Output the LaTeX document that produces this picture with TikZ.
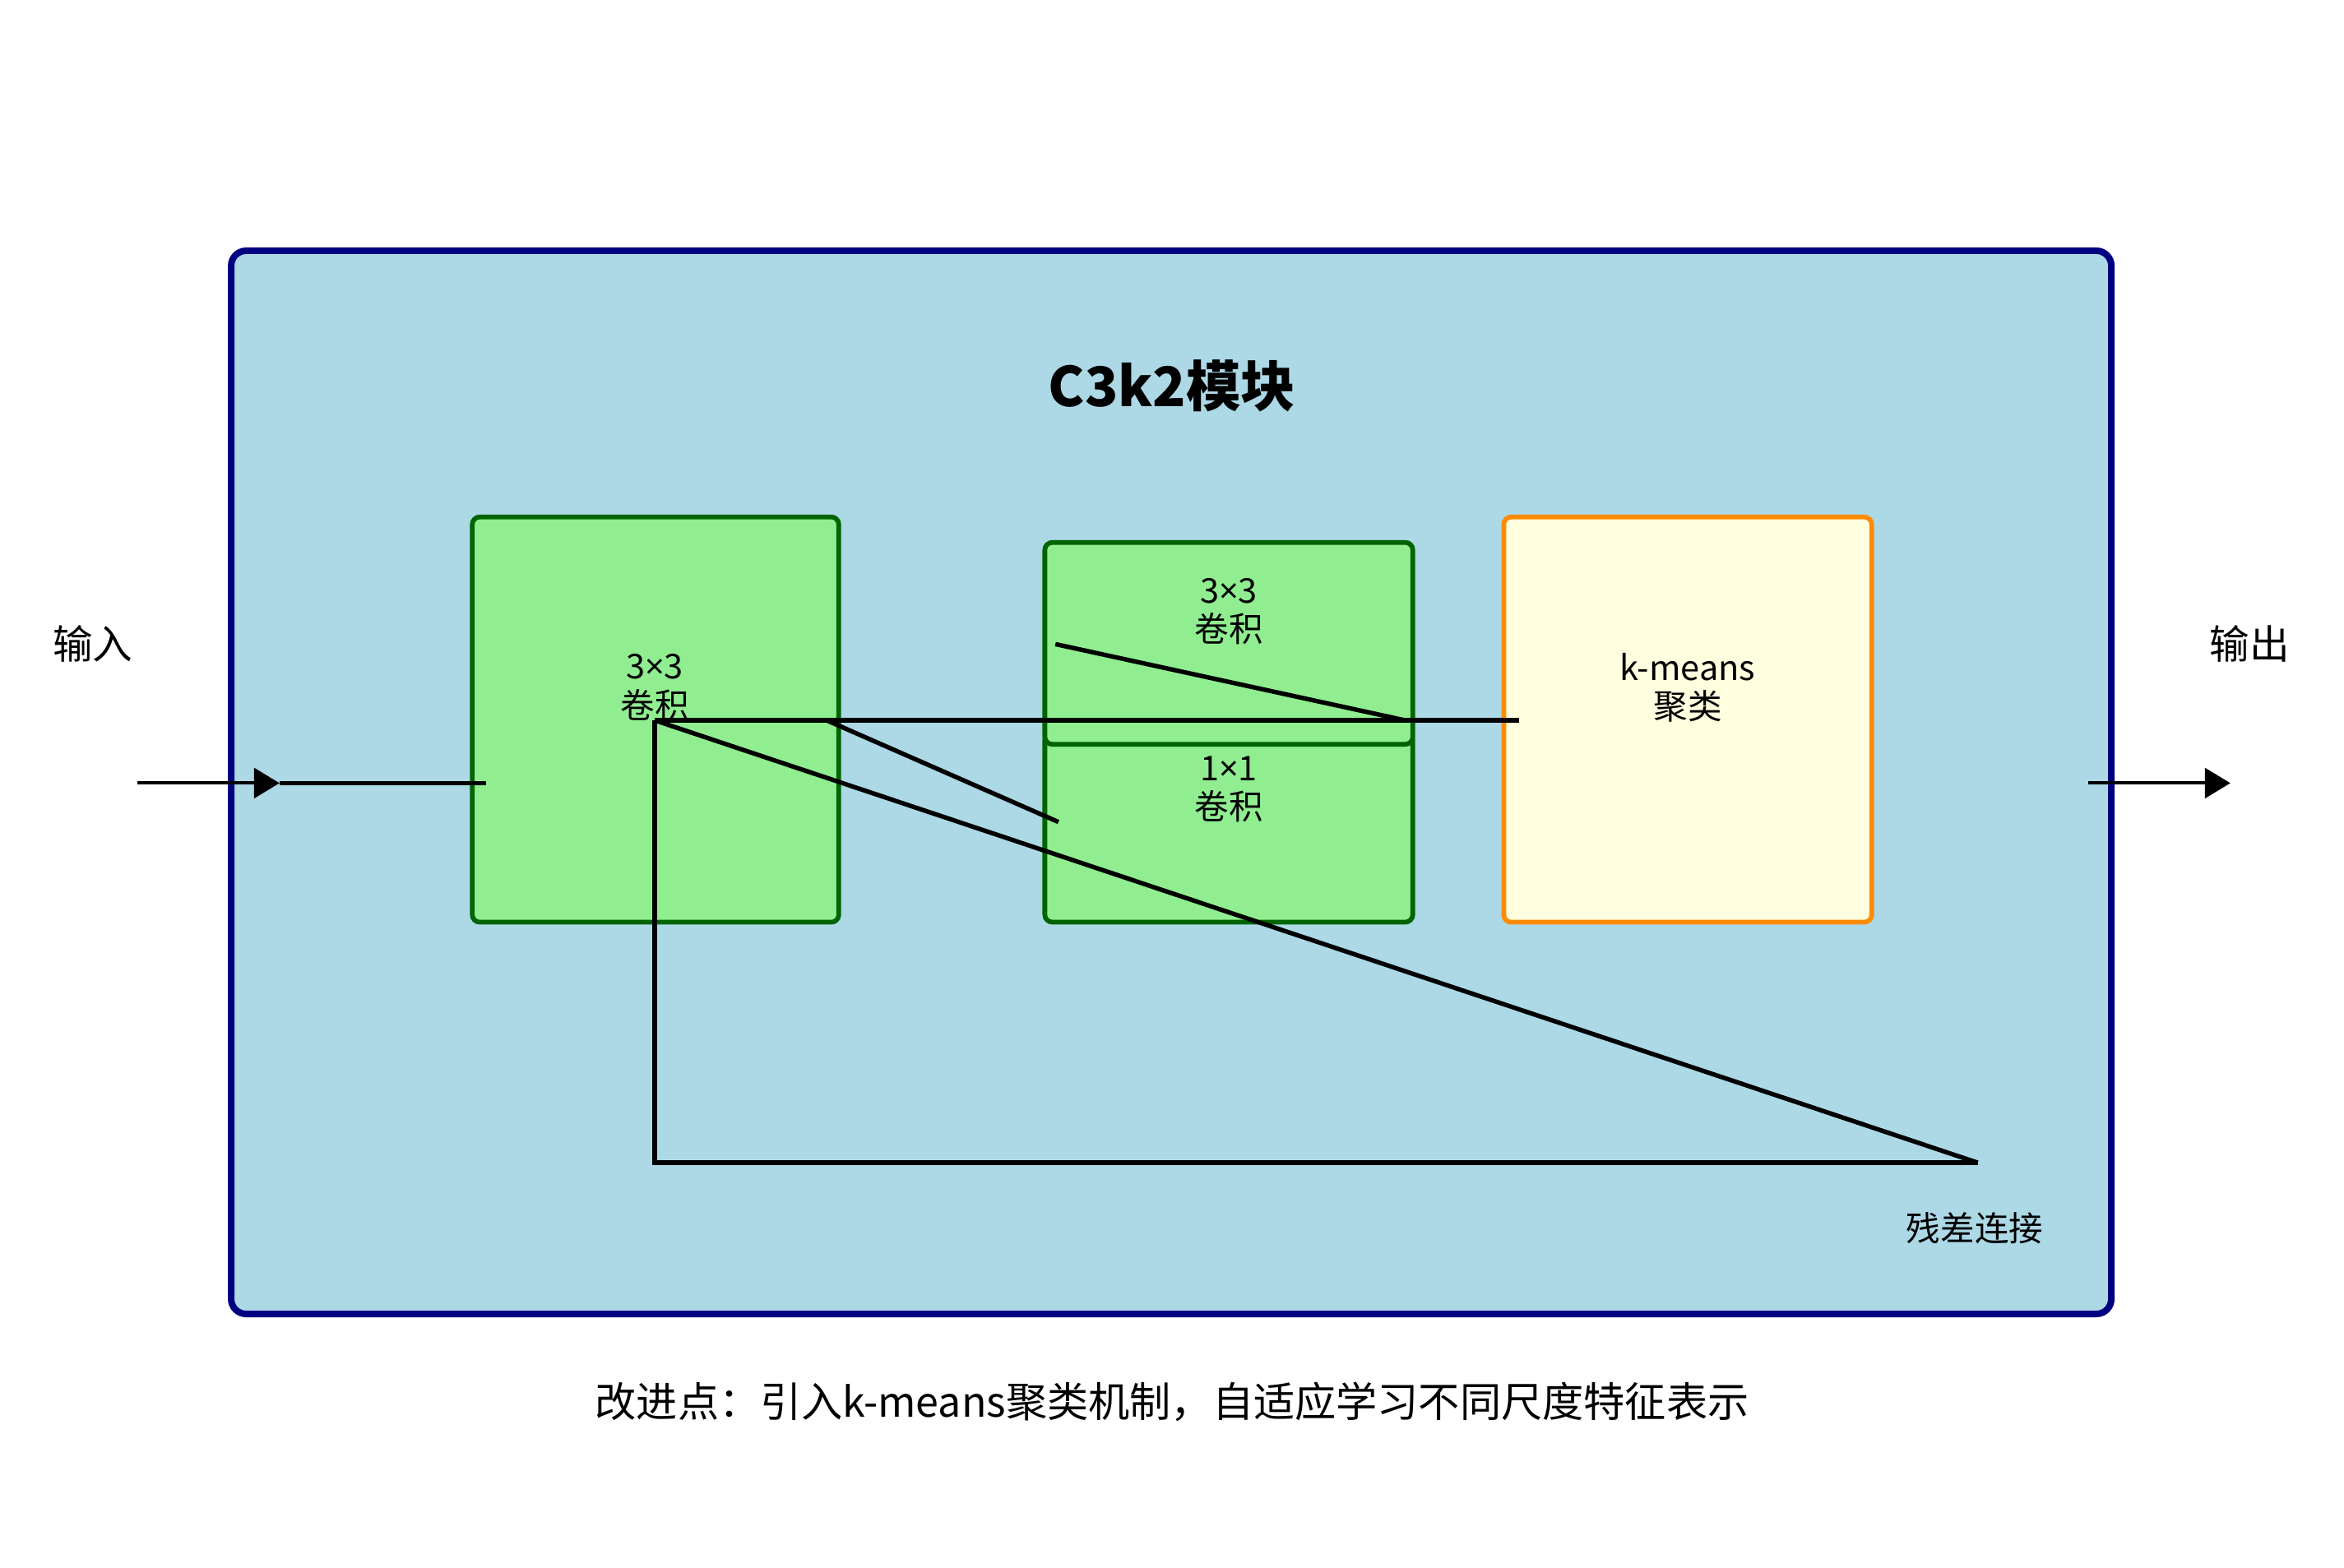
\documentclass[tikz,border=0pt]{standalone}
\usepackage{fontspec}
\setmainfont{Noto Sans CJK SC}
\newfontfamily\timesfont{Noto Sans}
\usetikzlibrary{arrows.meta}

\definecolor{moduleblue}{HTML}{ADD8E6}
\definecolor{modulenavy}{HTML}{000080}
\definecolor{convgreen}{HTML}{90EE90}
\definecolor{convdark}{HTML}{006400}
\definecolor{kmfill}{HTML}{FFFFE0}
\definecolor{kmorange}{HTML}{FF8C00}

\newcommand{\kx}{{\timesfont ×}}

\tikzset{
  modulebox/.style={draw=modulenavy, fill=moduleblue, line width=1.25pt, rounded corners=0.1cm},
  convbox/.style={draw=convdark, fill=convgreen, line width=0.9pt, rounded corners=0.05cm},
  kmbox/.style={draw=kmorange, fill=kmfill, line width=0.9pt, rounded corners=0.05cm},
  boxtext/.style={align=center, font=\fontsize{6.5pt}{7.4pt}\selectfont, inner sep=0pt},
  sidetext/.style={font=\fontsize{7.6pt}{9pt}\selectfont, inner sep=0pt},
  wire/.style={line width=0.85pt, black},
  flow/.style={line width=0.62pt, black, -{Triangle[length=0.17cm,width=0.2cm]}}
}

\begin{document}
\begin{tikzpicture}[x=0.01cm, y=-0.01cm]
            \useasboundingbox (0,0) rectangle (1568,1049);

            % module frame
            \node[modulebox, minimum width=12.57cm, minimum height=7.11cm] (module) at (783.5,523.5) {};
            \node[font=\fontsize{10.4pt}{12pt}\selectfont\bfseries, inner sep=0pt] (title) at (784,258) {C3k2模块};

            % blocks
            \node[convbox, minimum width=2.45cm, minimum height=2.71cm] (conv1) at (438.5,481.5) {};
            \node[boxtext] (conv1txt) at (438,460) {3\kx3\\卷积};

            \node[convbox, minimum width=2.46cm, minimum height=1.27cm] (conv3) at (822,553.5) {};
            \node[convbox, minimum width=2.46cm, minimum height=1.35cm] (conv2) at (822,430.5) {};
            \node[boxtext] (conv2txt) at (822,409) {3\kx3\\卷积};
            \node[boxtext] (conv3txt) at (822,528) {1\kx1\\卷积};

            \node[kmbox, minimum width=2.46cm, minimum height=2.71cm] (kmeans) at (1129,481.5) {};
            \node[boxtext] (kmtxt) at (1129,460) {k-means\\聚类};

            % labels outside
            \node[sidetext] (input) at (62,431) {输入};
            \node[sidetext] (output) at (1505,431) {输出};
            \node[boxtext] (restxt) at (1321,822) {残差连接};
            \node[sidetext, font=\fontsize{7.85pt}{9pt}\selectfont] (note) at (784,938) {改进点：引入k-means聚类机制，自适应学习不同尺度特征表示};

            % connection points
            \coordinate (in0) at (92,524);
            \coordinate (in1) at (187,524);
            \coordinate (in2) at (325,524);
            \coordinate (c1) at (438,482);
            \coordinate (c2) at (553,482);
            \coordinate (c3) at (708,550);
            \coordinate (c4) at (706,431);
            \coordinate (c5) at (940,482);
            \coordinate (c6) at (1016,482);
            \coordinate (r1) at (438,778);
            \coordinate (r2) at (1323,778);
            \coordinate (out0) at (1397,524);
            \coordinate (out1) at (1492,524);

            % input / output
            \draw[flow] (in0) -- (in1);
            \draw[wire] (in1) -- (in2);
            \draw[flow] (out0) -- (out1);

            % inner wiring
            \draw[wire] (c1) -- (c6);
            \draw[wire] (c2) -- (c3);
            \draw[wire] (c4) -- (c5);
            \draw[wire] (c1) -- (r2);

            % residual path
            \draw[wire] (c1) -- (r1) -- (r2);
        \end{tikzpicture}
\end{document}
